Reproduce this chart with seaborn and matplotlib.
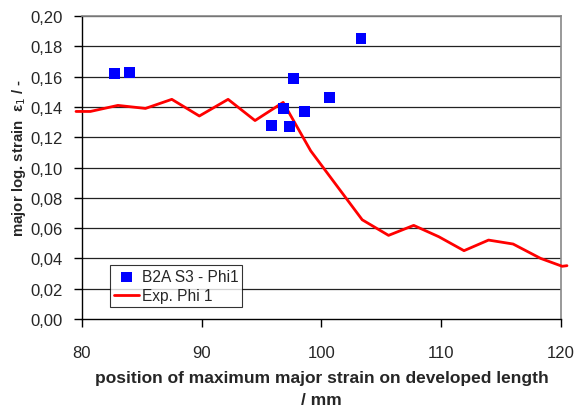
import matplotlib
matplotlib.use("Agg")
import matplotlib.pyplot as plt
import seaborn as sns
import pandas as pd
from matplotlib.ticker import FuncFormatter, MultipleLocator

# Data
scatter_x = [82.7, 84.0, 95.8, 96.8, 97.3, 97.7, 98.6, 100.7, 103.3]
scatter_y = [0.162, 0.163, 0.128, 0.139, 0.127, 0.159, 0.137, 0.146, 0.185]
line_x = [79.5, 80.7, 83.0, 85.3, 87.5, 89.8, 92.2, 94.45, 96.8, 99.1,
          103.4, 105.6, 107.7, 109.8, 111.9, 113.95, 116.0, 118.3, 120.1, 120.5]
line_y = [0.137, 0.137, 0.141, 0.139, 0.145, 0.134, 0.145, 0.131, 0.143, 0.111,
          0.0655, 0.0552, 0.0618, 0.0543, 0.0451, 0.0521, 0.0495, 0.040, 0.0348, 0.0352]
scatter_label = "B2A S3 - Phi1"
line_label = "Exp. Phi 1"

sns.set_style("white")
plt.rcParams['font.family'] = ['Liberation Sans', 'DejaVu Sans']

fig = plt.figure(figsize=(5.84, 4.10), dpi=100)
ax = fig.add_axes([0.1404, 0.2195, 0.8202, 0.739])

df_s = pd.DataFrame({"x": scatter_x, "y": scatter_y})
df_l = pd.DataFrame({"x": line_x, "y": line_y})

for v in [0.02 * i for i in range(1, 11)]:
    ax.axhline(v, color="#222222", lw=0.9, zorder=0)

sns.lineplot(data=df_l, x="x", y="y", ax=ax, color="#ff0000", lw=2,
             sort=False, label=line_label, clip_on=False, zorder=3)
sns.scatterplot(data=df_s, x="x", y="y", ax=ax, color="#0000ff", marker="s",
                s=62, edgecolor="none", label=scatter_label, zorder=4)

ax.set_xlim(80, 120)
ax.set_ylim(0, 0.20)
ax.xaxis.set_major_locator(MultipleLocator(10))
ax.yaxis.set_major_locator(MultipleLocator(0.02))
ax.yaxis.set_major_formatter(FuncFormatter(lambda v, p: f"{v:.2f}".replace(".", ",")))
ax.tick_params(axis="both", direction="out", length=6, width=1, color="black",
               labelsize=12, left=True, bottom=True)
ax.tick_params(axis="x", pad=13)
ax.tick_params(axis="y", pad=8)

for side in ["left", "bottom"]:
    ax.spines[side].set_color("black")
    ax.spines[side].set_linewidth(1)
for side in ["top", "right"]:
    ax.spines[side].set_color("#888888")
    ax.spines[side].set_linewidth(1.2)

ax.set_xlabel("position of maximum major strain on developed length\n/ mm",
              fontsize=12.5, fontweight="bold", labelpad=7, linespacing=1.55)
ax.set_ylabel("major log. strain  ε$_1$ / -", fontsize=10.8, fontweight="bold")
ax.yaxis.set_label_coords(-0.113, 0.535)

handles, labels = ax.get_legend_handles_labels()
order = [labels.index(scatter_label), labels.index(line_label)]
leg = ax.legend([handles[i] for i in order], [labels[i] for i in order],
                loc="lower left", bbox_to_anchor=(0.058, 0.04), frameon=True,
                fancybox=False, edgecolor="black", fontsize=11.2,
                handlelength=1.6, borderpad=0.25, labelspacing=0.25, handletextpad=0.2,
                borderaxespad=0)
leg.get_frame().set_linewidth(0.8)

fig.savefig("out.png", dpi=100)
